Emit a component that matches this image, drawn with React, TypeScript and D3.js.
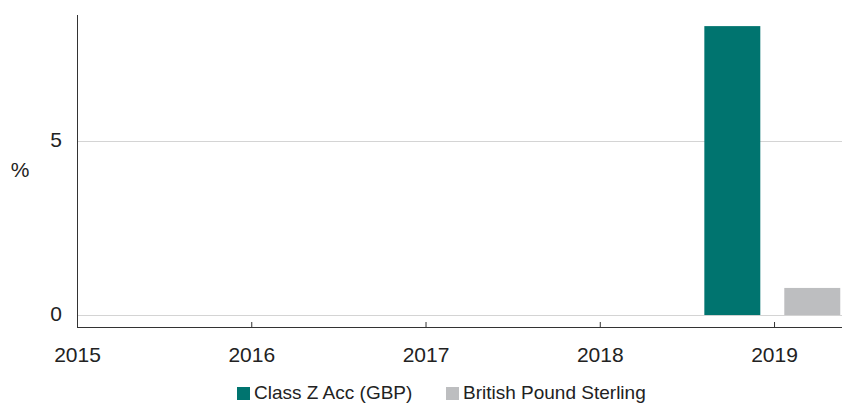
import React, { useEffect, useRef } from "react";
import * as d3 from "d3";

// data
const years = [2015, 2016, 2017, 2018, 2019];
const seriesNames = ["Class Z Acc (GBP)", "British Pound Sterling"];
const seriesColors = ["#00746f", "#bdbec0"];
const values2019 = [8.32, 0.78];
const yTicks = [0, 5];

const App = () => {
    const ref = useRef<SVGSVGElement | null>(null);

    const renderGraph = () => {
        const svg = d3.select(ref.current);
        svg.selectChildren().remove();

        const width = 842;
        const height = 403;
        const margin = { top: 15, right: 0, bottom: 76, left: 77 };
        const font = "Liberation Sans, Arial, sans-serif";

        // x is a continuous year scale, last year is clipped at the right edge
        const x = d3.scaleLinear()
            .domain([2015, 2019.39])
            .range([margin.left, width - margin.right]);

        const y = d3.scaleLinear()
            .domain([-0.345, 8.64])
            .range([height - margin.bottom, margin.top]);

        // grid lines
        svg.append("g")
            .selectAll("line")
            .data(yTicks)
            .enter().append("line")
            .attr("x1", margin.left)
            .attr("x2", width)
            .attr("y1", d => Math.round(y(d)) + 0.5)
            .attr("y2", d => Math.round(y(d)) + 0.5)
            .attr("stroke", "#d4d4d4")
            .attr("stroke-width", 1);

        // y labels
        svg.append("g")
            .selectAll("text")
            .data(yTicks)
            .enter().append("text")
            .attr("x", 62)
            .attr("y", d => y(d) + 6)
            .attr("text-anchor", "end")
            .attr("font-family", font)
            .attr("font-size", 21)
            .attr("fill", "#222")
            .text(d => d);

        svg.append("text")
            .attr("x", 20)
            .attr("y", 177)
            .attr("text-anchor", "middle")
            .attr("font-family", font)
            .attr("font-size", 21)
            .attr("fill", "#222")
            .text("%");

        // bars for 2019, grouped around the tick
        const inner = d3.scaleBand<string>()
            .domain(seriesNames)
            .range([x(2018.6), x(2019.38)])
            .paddingInner(0.3);

        svg.append("g")
            .selectAll("rect")
            .data(values2019)
            .enter().append("rect")
            .attr("x", (d, i) => inner(seriesNames[i]) as number)
            .attr("y", d => y(d))
            .attr("width", inner.bandwidth())
            .attr("height", d => y(0) - y(d))
            .attr("fill", (d, i) => seriesColors[i]);

        // axes
        const axisY = y.range()[0];
        const axisX = svg.append("g")
            .attr("transform", `translate(0, ${axisY})`)
            .call(d3.axisBottom(x).tickValues(years).tickFormat(d3.format("d")).tickSizeInner(-5).tickSizeOuter(0).tickPadding(20));
        axisX.select(".domain").attr("stroke", "#333").attr("d", `M${margin.left},0.5H${width}`);
        axisX.selectAll(".tick line").attr("stroke", "#333");
        axisX.selectAll(".tick text")
            .attr("font-family", font)
            .attr("font-size", 21)
            .attr("fill", "#222");
        axisX.selectAll(".tick").filter(d => d === 2015).select("line").remove();

        svg.append("line")
            .attr("x1", margin.left + 0.5)
            .attr("x2", margin.left + 0.5)
            .attr("y1", margin.top)
            .attr("y2", axisY + 1)
            .attr("stroke", "#333");

        // legend
        const legendX = [237, 446];
        const legend = svg.append("g")
            .selectAll("g")
            .data(seriesNames)
            .enter().append("g")
            .attr("transform", (d, i) => `translate(${legendX[i]}, 387)`);
        legend.append("rect")
            .attr("width", 13)
            .attr("height", 13)
            .attr("fill", (d, i) => seriesColors[i]);
        legend.append("text")
            .attr("x", 17)
            .attr("y", 12)
            .attr("font-family", font)
            .attr("font-size", 19)
            .attr("fill", "#222")
            .text(d => d);
    };

    useEffect(() => {
        renderGraph();
    });

    return (
        <svg ref={ref} width={842} height={403}
            style={{ position: "absolute", left: 0, top: 0, background: "#fff" }} />
    );
};

export default App;
